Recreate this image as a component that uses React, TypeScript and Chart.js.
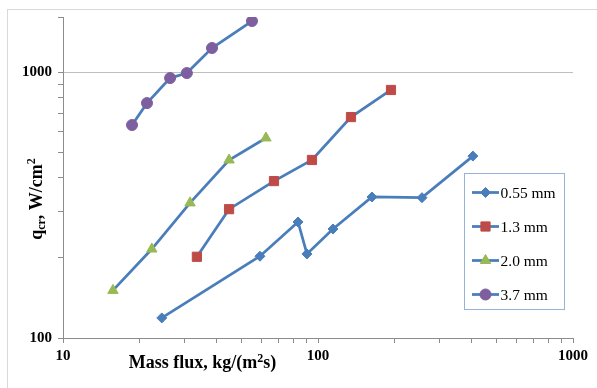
import React, { useEffect, useRef } from 'react';
import { Chart, registerables } from 'chart.js';

Chart.register(...registerables);

// ---- data ----
const seriesLabels = ['0.55 mm', '1.3 mm', '2.0 mm', '3.7 mm'];

const flux055 = [24.4, 59.2, 83.5, 90.5, 114.5, 162.8, 255.7, 405];
const qcr055 = [119, 203, 273, 207, 257, 339, 337, 483];

const flux13 = [33.5, 44.8, 67.2, 94.7, 134.7, 193.3];
const qcr13 = [202, 305, 389, 467, 677, 856];

const flux20 = [15.7, 22.3, 31.5, 44.8, 62.5];
const qcr20 = [151, 216, 322, 467, 565];

const flux37 = [18.65, 21.35, 26.3, 30.6, 38.4, 55.1];
const qcr37 = [632, 764, 949, 991, 1231, 1555];

const xTickValues = [10, 20, 30, 40, 50, 60, 70, 80, 90, 100, 200, 300, 400, 500, 600, 700, 800, 900, 1000];
const xTickLabels = ['10', '100', '1000'];
const yTickValues = [100, 200, 300, 400, 500, 600, 700, 800, 900, 1000, 1610];
const yTickLabels = ['100', '1000'];
const yGridValues = [1000];

const xMin = 10;
const xMax = 1000;
const yMin = 100;
const yMax = 1610;

const xTitleParts = ['Mass flux, kg/(m', '2', 's)'];
const yTitleParts = ['q', 'cr', ', W/cm', '2'];

// ---- styles ----
const lineColor = '#4a7ebb';
const markerColors = ['#4a7ebb', '#be4b48', '#98b954', '#7d5fa0'];
const markerStyles = ['rectRot', 'rect', 'triangle', 'circle'];
const markerRadii = [5, 6.5, 6, 5.5];
const serif = '"Liberation Serif", "Times New Roman", serif';

function toPoints(xs: number[], ys: number[]) {
  return xs.map((x, i) => ({ x, y: ys[i] }));
}

function drawMarker(ctx: CanvasRenderingContext2D, style: string, x: number, y: number, r: number, color: string) {
  ctx.save();
  ctx.fillStyle = color;
  ctx.strokeStyle = color;
  ctx.lineWidth = 1;
  ctx.beginPath();
  if (style === 'circle') {
    ctx.arc(x, y, r, 0, Math.PI * 2);
  } else if (style === 'rect') {
    const s = r * Math.SQRT1_2;
    ctx.rect(x - s, y - s, 2 * s, 2 * s);
  } else if (style === 'rectRot') {
    ctx.moveTo(x, y - r);
    ctx.lineTo(x + r, y);
    ctx.lineTo(x, y + r);
    ctx.lineTo(x - r, y);
    ctx.closePath();
  } else if (style === 'triangle') {
    for (let k = 0; k < 3; k++) {
      const a = (k * 2 * Math.PI) / 3;
      const px = x + Math.sin(a) * r;
      const py = y - Math.cos(a) * r;
      if (k === 0) ctx.moveTo(px, py);
      else ctx.lineTo(px, py);
    }
    ctx.closePath();
  }
  ctx.fill();
  ctx.stroke();
  ctx.restore();
}

const decorPlugin = {
  id: 'decor',
  beforeDraw(chart: any) {
    const ctx = chart.ctx;
    ctx.save();
    ctx.fillStyle = '#ffffff';
    ctx.fillRect(0, 0, chart.width, chart.height);
    ctx.restore();
  },
  afterDraw(chart: any) {
    const ctx: CanvasRenderingContext2D = chart.ctx;
    const area = chart.chartArea;
    ctx.save();

    // outer frame
    ctx.strokeStyle = '#d9d9d9';
    ctx.lineWidth = 1;
    ctx.strokeRect(7.5, 9.5, chart.width + 10, chart.height + 10);

    // x title
    ctx.fillStyle = '#000';
    ctx.textBaseline = 'alphabetic';
    const big = `bold 18px ${serif}`;
    const small = `bold 12px ${serif}`;
    ctx.font = big;
    const w0 = ctx.measureText(xTitleParts[0]).width;
    const w2 = ctx.measureText(xTitleParts[2]).width;
    ctx.font = small;
    const w1 = ctx.measureText(xTitleParts[1]).width;
    const total = w0 + w1 + w2;
    const cx = area.left + 139.5;
    const by = area.bottom + 30;
    let x = cx - total / 2;
    ctx.font = big;
    ctx.fillText(xTitleParts[0], x, by);
    x += w0;
    ctx.font = small;
    ctx.fillText(xTitleParts[1], x, by - 6);
    x += w1;
    ctx.font = big;
    ctx.fillText(xTitleParts[2], x, by);

    // y title (rotated)
    ctx.save();
    ctx.translate(41.5, area.top + 182);
    ctx.rotate(-Math.PI / 2);
    ctx.font = big;
    const a0 = ctx.measureText(yTitleParts[0]).width;
    const a2 = ctx.measureText(yTitleParts[2]).width;
    ctx.font = small;
    const a1 = ctx.measureText(yTitleParts[1]).width;
    const a3 = ctx.measureText(yTitleParts[3]).width;
    const tot = a0 + a1 + a2 + a3;
    let yx = -tot / 2;
    ctx.font = big;
    ctx.fillText(yTitleParts[0], yx, 0);
    yx += a0;
    ctx.font = small;
    ctx.fillText(yTitleParts[1], yx, 3);
    yx += a1;
    ctx.font = big;
    ctx.fillText(yTitleParts[2], yx, 0);
    yx += a2;
    ctx.font = small;
    ctx.fillText(yTitleParts[3], yx, -7);
    ctx.restore();

    // legend
    const lx = area.left + 401.5;
    const ly = area.top + 156.5;
    const lw = 100;
    const lh = 136;
    ctx.fillStyle = '#ffffff';
    ctx.fillRect(lx, ly, lw, lh);
    ctx.strokeStyle = '#95b3d7';
    ctx.lineWidth = 1;
    ctx.strokeRect(lx, ly, lw, lh);
    chart.data.datasets.forEach((ds: any, i: number) => {
      const ry = ly + 19 + i * 34;
      ctx.strokeStyle = lineColor;
      ctx.lineWidth = 2.75;
      ctx.beginPath();
      ctx.moveTo(lx + 7.5, ry);
      ctx.lineTo(lx + 34.5, ry);
      ctx.stroke();
      drawMarker(ctx, markerStyles[i], lx + 21, ry, markerRadii[i], markerColors[i]);
      ctx.fillStyle = '#000';
      ctx.font = `15.5px ${serif}`;
      ctx.textBaseline = 'middle';
      ctx.fillText(ds.label, lx + 36, ry + 1);
    });
    ctx.restore();
  },
};

export default function App() {
  const canvasRef = useRef<HTMLCanvasElement | null>(null);

  useEffect(() => {
    if (!canvasRef.current) return;
    const sets = [
      toPoints(flux055, qcr055),
      toPoints(flux13, qcr13),
      toPoints(flux20, qcr20),
      toPoints(flux37, qcr37),
    ];
    const tickFont = { family: serif, size: 15, weight: 'bold' as const };
    const chart = new Chart(canvasRef.current, {
      type: 'line',
      data: {
        datasets: sets.map((d, i) => ({
          label: seriesLabels[i],
          data: d,
          borderColor: lineColor,
          borderWidth: 2.75,
          backgroundColor: markerColors[i],
          pointBackgroundColor: markerColors[i],
          pointBorderColor: markerColors[i],
          pointBorderWidth: 1,
          pointStyle: markerStyles[i] as any,
          pointRadius: markerRadii[i],
          tension: 0,
          fill: false,
        })),
      },
      options: {
        animation: false,
        responsive: false,
        parsing: false as any,
        layout: { padding: { top: 17, right: 24, left: 0, bottom: 0 } },
        plugins: {
          legend: { display: false },
          tooltip: { enabled: false },
          title: { display: false },
        },
        scales: {
          x: {
            type: 'logarithmic',
            min: xMin,
            max: xMax,
            afterBuildTicks: (s: any) => {
              s.ticks = xTickValues.map((v) => ({ value: v }));
            },
            afterFit: (s: any) => {
              s.height = 50;
            },
            ticks: {
              autoSkip: false,
              maxRotation: 0,
              padding: 4,
              color: '#000',
              font: tickFont,
              callback: (v: any) => (xTickLabels.includes(String(v)) ? String(v) : ''),
            },
            grid: { drawOnChartArea: false, drawTicks: true, tickLength: 5, tickColor: '#8c8c8c' },
            border: { display: true, color: '#8c8c8c', width: 1 },
          },
          y: {
            type: 'logarithmic',
            min: yMin,
            max: yMax,
            afterBuildTicks: (s: any) => {
              s.ticks = yTickValues.map((v) => ({ value: v }));
            },
            afterFit: (s: any) => {
              s.width = 63;
            },
            ticks: {
              autoSkip: false,
              padding: 6,
              color: '#000',
              font: tickFont,
              callback: (v: any) => (yTickLabels.includes(String(v)) ? String(v) : ''),
            },
            grid: {
              drawOnChartArea: true,
              drawTicks: true,
              tickLength: 5,
              tickColor: '#8c8c8c',
              color: (c: any) => (c.tick && yGridValues.includes(c.tick.value) ? '#bfbfbf' : 'rgba(0,0,0,0)'),
              lineWidth: 1,
            },
            border: { display: true, color: '#8c8c8c', width: 1 },
          },
        },
      },
      plugins: [decorPlugin],
    });
    return () => chart.destroy();
  }, []);

  return (
    <div style={{ position: 'absolute', left: 0, top: 0, width: 597, height: 388 }}>
      <canvas ref={canvasRef} width={597} height={388} style={{ display: 'block' }} />
    </div>
  );
}
